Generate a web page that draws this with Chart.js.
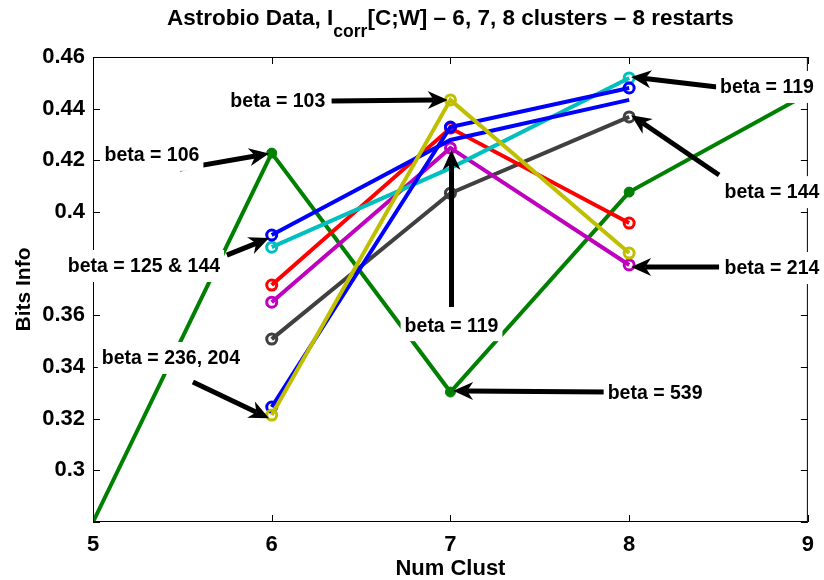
<!DOCTYPE html>
<html>
<head>
<meta charset="utf-8">
<script src="https://cdn.jsdelivr.net/npm/chart.js@4.4.1/dist/chart.umd.min.js"></script>
<style>
  html, body { margin: 0; padding: 0; background: #fff; }
  #wrap { width: 824px; height: 580px; }
</style>
</head>
<body>
<div id="wrap"><canvas id="bitsChart" width="824" height="580"></canvas></div>
<script>
// number of clusters on the x axis
const clustLeft = [6, 7, 8];
const clustGreen = [5, 6, 7, 8, 9];
const xTicks = [5, 6, 7, 8, 9];
const yTicks = [0.28, 0.30, 0.32, 0.34, 0.36, 0.38, 0.40, 0.42, 0.44, 0.46];

// bits of information per restart
const yellowRun = [0.3214, 0.4434, 0.3841];
const blueRunA = [0.3245, 0.4329, 0.4480];
const blueRunB = [0.3911, 0.4279, 0.4434];
const cyanRun = [0.3864, 0.4170, 0.4519];
const magentaRun = [0.3651, 0.4248, 0.3795];
const redRun = [0.3717, 0.4325, 0.3957];
const grayRun = [0.3508, 0.4073, 0.4368];
const greenRun = [0.2800, 0.4228, 0.3303, 0.4077, 0.4458];

// text labels with arrows, in data units
const notes = [
  { text: 'beta = 106', at: [5.33, 0.4221], tail: [5.486, 0.4166], tip: [5.985, 0.4226] },
  { text: 'beta = 125 & 144', at: [5.285, 0.3791], tail: [5.749, 0.3833], tip: [5.985, 0.3899], padL: 30 },
  { text: 'beta = 236, 204', at: [5.436, 0.3435], tail: [5.559, 0.3342], tip: [5.985, 0.3202] },
  { text: 'beta = 103', at: [6.034, 0.4430], tail: [6.335, 0.4430], tip: [6.985, 0.4434] },
  { text: 'beta = 119', at: [7.006, 0.3562], tail: [7.006, 0.3632], tip: [7.006, 0.4240] },
  { text: 'beta = 539', at: [8.145, 0.3300], tail: [7.872, 0.3303], tip: [7.015, 0.3308] },
  { text: 'beta = 119', at: [8.771, 0.4484], tail: [8.492, 0.4484], tip: [8.011, 0.4523] },
  { text: 'beta = 144', at: [8.799, 0.4077], tail: [8.503, 0.4143], tip: [8.011, 0.4375] },
  { text: 'beta = 214', at: [8.799, 0.3783], tail: [8.503, 0.3787], tip: [8.011, 0.3787] }
];

const FONT = 'Liberation Sans, Arial, Helvetica, sans-serif';

function pts(xs, ys) {
  return xs.map((x, i) => ({ x: x, y: ys[i] }));
}

function run(label, color, values, radius) {
  return {
    label: label,
    data: pts(clustLeft, values),
    borderColor: color,
    backgroundColor: color,
    borderWidth: 4,
    pointRadius: radius || 5,
    pointBorderWidth: 3,
    pointBackgroundColor: 'rgba(0,0,0,0)',
    pointBorderColor: color,
    tension: 0
  };
}

const datasets = [
  run('yellow', '#bfbf00', yellowRun),
  run('blueA', '#0000ff', blueRunA),
  run('blueB', '#0000ff', blueRunB, [5, 0, 0]),
  run('cyan', '#00bfbf', cyanRun, [5, 0, 5]),
  run('magenta', '#bf00bf', magentaRun),
  run('red', '#ff0000', redRun),
  run('gray', '#404040', grayRun),
  {
    label: 'green',
    data: pts(clustGreen, greenRun),
    borderColor: '#008000',
    backgroundColor: '#008000',
    borderWidth: 4,
    pointRadius: [0, 5, 5, 5, 0],
    pointBorderWidth: 1,
    pointBackgroundColor: '#008000',
    pointBorderColor: '#008000',
    tension: 0
  }
];

function drawArrow(ctx, x1, y1, x2, y2) {
  const ang = Math.atan2(y2 - y1, x2 - x1);
  const len = 20, half = 9, back = 14;
  const cx = Math.cos(ang), sy = Math.sin(ang);
  const px = -sy, py = cx;
  ctx.beginPath();
  ctx.moveTo(x1, y1);
  ctx.lineTo(x2 - cx * back, y2 - sy * back);
  ctx.lineWidth = 5;
  ctx.strokeStyle = '#000';
  ctx.stroke();
  ctx.beginPath();
  ctx.moveTo(x2, y2);
  ctx.lineTo(x2 - cx * len + px * half, y2 - sy * len + py * half);
  ctx.lineTo(x2 - cx * back, y2 - sy * back);
  ctx.lineTo(x2 - cx * len - px * half, y2 - sy * len - py * half);
  ctx.closePath();
  ctx.fillStyle = '#000';
  ctx.fill();
}

const decorPlugin = {
  id: 'decor',
  afterDraw(chart) {
    const ctx = chart.ctx;
    const a = chart.chartArea;
    const xs = chart.scales.x, ys = chart.scales.y;
    ctx.save();

    // box and inward ticks
    ctx.strokeStyle = '#000';
    ctx.lineWidth = 1;
    ctx.strokeRect(a.left + 0.5, a.top + 0.5, a.right - a.left - 1, a.bottom - a.top - 1);
    ctx.beginPath();
    xTicks.forEach(v => {
      const p = Math.round(xs.getPixelForValue(v)) + 0.5;
      ctx.moveTo(p, a.bottom); ctx.lineTo(p, a.bottom - 7);
      ctx.moveTo(p, a.top); ctx.lineTo(p, a.top + 7);
    });
    yTicks.forEach(v => {
      const p = Math.round(ys.getPixelForValue(v)) + 0.5;
      ctx.moveTo(a.left, p); ctx.lineTo(a.left + 7, p);
      ctx.moveTo(a.right, p); ctx.lineTo(a.right - 7, p);
    });
    ctx.stroke();

    // arrows
    notes.forEach(n => {
      drawArrow(ctx,
        xs.getPixelForValue(n.tail[0]), ys.getPixelForValue(n.tail[1]),
        xs.getPixelForValue(n.tip[0]), ys.getPixelForValue(n.tip[1]));
    });

    // labels on white boxes
    ctx.font = 'bold 19.5px ' + FONT;
    ctx.textAlign = 'center';
    ctx.textBaseline = 'middle';
    notes.forEach(n => {
      const cx = xs.getPixelForValue(n.at[0]);
      const cy = ys.getPixelForValue(n.at[1]);
      const w = ctx.measureText(n.text).width + 8;
      const extra = n.padL || 0;
      ctx.fillStyle = '#fff';
      ctx.fillRect(cx - w / 2 - extra, cy - 16, w + extra, 32);
      ctx.fillStyle = '#000';
      ctx.fillText(n.text, cx, cy + 1);
    });

    // title with subscript
    const partA = 'Astrobio Data, I';
    const partSub = 'corr';
    const partB = '[C;W] \u2013 6, 7, 8 clusters \u2013 8 restarts';
    const big = 'bold 22.5px ' + FONT, small = 'bold 17.5px ' + FONT;
    ctx.font = big;
    const wA = ctx.measureText(partA).width;
    const wB = ctx.measureText(partB).width;
    ctx.font = small;
    const wS = ctx.measureText(partSub).width;
    let x = (a.left + a.right) / 2 - (wA + wS + wB) / 2;
    ctx.textAlign = 'left';
    ctx.textBaseline = 'alphabetic';
    ctx.fillStyle = '#000';
    ctx.font = big;
    ctx.fillText(partA, x, 25);
    x += wA;
    ctx.font = small;
    ctx.fillText(partSub, x, 37);
    x += wS;
    ctx.font = big;
    ctx.fillText(partB, x, 25);

    ctx.restore();
  }
};

new Chart(document.getElementById('bitsChart'), {
  type: 'line',
  data: { datasets: datasets },
  options: {
    responsive: false,
    animation: false,
    layout: { padding: { top: 57, right: 15, left: 0, bottom: 0 } },
    plugins: {
      legend: { display: false },
      tooltip: { enabled: false }
    },
    scales: {
      x: {
        type: 'linear',
        min: 5,
        max: 9,
        afterFit: s => { s.height = 58; },
        afterBuildTicks: s => { s.ticks = xTicks.map(v => ({ value: v })); },
        ticks: {
          color: '#000',
          font: { family: FONT, size: 22, weight: 'bold' },
          padding: 10,
          callback: v => String(v)
        },
        grid: { display: false, drawTicks: false },
        border: { display: false },
        title: {
          display: true,
          text: 'Num Clust',
          color: '#000',
          font: { family: FONT, size: 22, weight: 'bold' },
          padding: { top: 0, bottom: -2 }
        }
      },
      y: {
        type: 'linear',
        min: 0.28,
        max: 0.46,
        afterFit: s => { s.width = 93; },
        afterBuildTicks: s => { s.ticks = yTicks.map(v => ({ value: v })); },
        ticks: {
          color: '#000',
          font: { family: FONT, size: 22, weight: 'bold' },
          padding: 8,
          callback: v => (v < 0.29 ? '' : String(Number(v.toFixed(2))))
        },
        grid: { display: false, drawTicks: false },
        border: { display: false },
        title: {
          display: true,
          text: 'Bits Info',
          color: '#000',
          font: { family: FONT, size: 21, weight: 'bold' },
          padding: { top: 12, bottom: 0 }
        }
      }
    }
  },
  plugins: [decorPlugin]
});
</script>
</body>
</html>
